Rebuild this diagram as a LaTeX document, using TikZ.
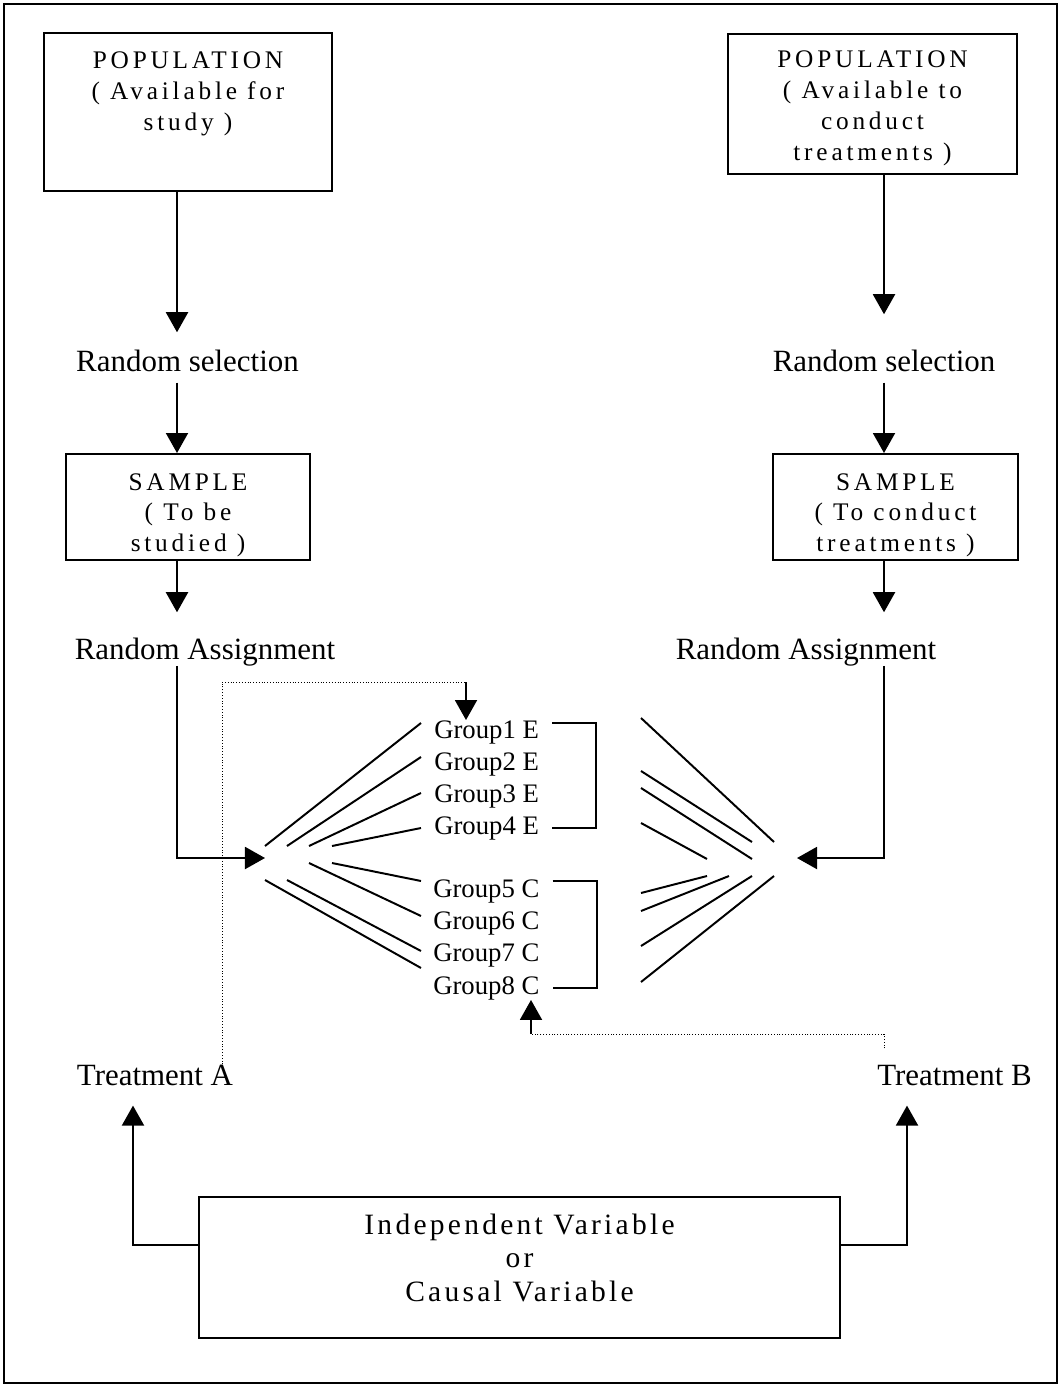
\documentclass[tikz,border=0pt]{standalone}
\usepackage{fontspec}
\setmainfont{Liberation Serif}
\newfontfamily\spacedfont[LetterSpace=15]{Liberation Serif}
\newfontfamily\varfont[LetterSpace=11]{Liberation Serif}
\usetikzlibrary{positioning, calc, arrows.meta}

\begin{document}
\begin{tikzpicture}
    [x=0.025cm, y=-0.025cm,
    boxnode/.style={rectangle, draw=black, line width=1.4pt, inner ysep=0pt, align=center, font=\spacedfont\fontsize{18}{22}\selectfont},
    varnode/.style={rectangle, draw=black, line width=1.4pt, align=center, font=\varfont\fontsize{21}{24}\selectfont},
    labelnode/.style={inner sep=0pt, anchor=base, font=\fontsize{22}{26}\selectfont},
    groupnode/.style={inner sep=0pt, anchor=base west, font=\fontsize{19}{22}\selectfont},
    arrowline/.style={line width=1.4pt, -{Triangle[width=0.55cm, length=0.5cm]}},
    plainline/.style={line width=1.4pt},
    dottedline/.style={line width=0.7pt, dash pattern=on 0.7pt off 1.3pt},]

    \useasboundingbox (0,0) rectangle (1061,1386);
    \draw[plainline] (4,4) rectangle (1057,1383);

     %Nodes
    \node[boxnode, minimum width=7.2cm, minimum height=3.95cm](P1) at (188,112){POPULATION\\( Available for\\study )\\[8pt]\mbox{}};
    \node[boxnode, minimum width=7.225cm, minimum height=3.5cm](P2) at (872.5,104){\mbox{}\\[-4pt]POPULATION\\( Available to\\conduct\\treatments )};

    \node[labelnode](selL) at (187.5,371){Random selection};
    \node[labelnode](selR) at (884,371){Random selection};

    \node[boxnode, minimum width=6.1cm, minimum height=2.65cm](S1) at (188,507){\mbox{}\\[1.7pt]SAMPLE\\( To be\\studied )};
    \node[boxnode, minimum width=6.125cm, minimum height=2.65cm](S2) at (895.5,507){\mbox{}\\[1.7pt]SAMPLE\\( To conduct\\treatments )};

    \node[labelnode](asgL) at (205,659){Random Assignment};
    \node[labelnode](asgR) at (806,659){Random Assignment};

    \node[groupnode](g1) at (434,738){Group1 E};
    \node[groupnode](g2) at (434,770){Group2 E};
    \node[groupnode](g3) at (434,802){Group3 E};
    \node[groupnode](g4) at (434,834){Group4 E};
    \node[groupnode](g5) at (433,897){Group5 C};
    \node[groupnode](g6) at (433,929){Group6 C};
    \node[groupnode](g7) at (433,961){Group7 C};
    \node[groupnode](g8) at (433,994){Group8 C};

    \node[labelnode](tA) at (155,1085){Treatment A};
    \node[labelnode](tB) at (954.5,1085){Treatment B};

    \node[varnode, minimum width=16.025cm, minimum height=3.525cm](IV) at (519.5,1267.5){Independent Variable\\or\\Causal Variable\\[-10pt]\mbox{}};

    \coordinate (colL) at (177,0);
    \coordinate (colR) at (884,0);
    \coordinate (hubL) at (265,858);
    \coordinate (hubR) at (797,858);
    \coordinate (aL) at (133,1245);
    \coordinate (aR) at (907,1245);
    \coordinate (dA) at (222,682);
    \coordinate (dA2) at (466,682);
    \coordinate (dB) at (884,1034);
    \coordinate (dB2) at (531,1034);

    %Lines
    \draw[arrowline, shorten >=0.425cm] (P1.south -| colL) -- (selL.north -| colL);
    \draw[arrowline, shorten <=0.275cm] (selL.south -| colL) -- (S1.north -| colL);
    \draw[arrowline, shorten >=0.625cm] (S1.south -| colL) -- (asgL.north -| colL);
    \draw[arrowline] (asgL.south -| colL) |- (hubL);

    \draw[arrowline, shorten >=0.875cm] (P2.south -| colR) -- (selR.north -| colR);
    \draw[arrowline, shorten <=0.275cm] (selR.south -| colR) -- (S2.north -| colR);
    \draw[arrowline, shorten >=0.625cm] (S2.south -| colR) -- (asgR.north -| colR);
    \draw[arrowline] (asgR.south -| colR) |- (hubR);

    %Fan to the groups
    \draw[plainline] (265,846) -- (421,723);
    \draw[plainline] (287,846) -- (421,757);
    \draw[plainline] (309,846) -- (421,793);
    \draw[plainline] (332,846) -- (421,828);
    \draw[plainline] (332,863) -- (421,881);
    \draw[plainline] (309,863) -- (421,916);
    \draw[plainline] (287,880) -- (421,951);
    \draw[plainline] (265,880) -- (421,968);

    \draw[plainline] (641,718) -- (774,842);
    \draw[plainline] (641,771) -- (752,842);
    \draw[plainline] (641,788) -- (752,859);
    \draw[plainline] (641,823) -- (707,859);
    \draw[plainline] (641,893) -- (707,876);
    \draw[plainline] (641,911) -- (729,876);
    \draw[plainline] (641,946) -- (752,876);
    \draw[plainline] (641,982) -- (774,876);

    %Brackets
    \draw[plainline] ($(g1.east)+(13,-9)$) -| ($(g4.east)+(57,0)$) -- ($(g4.east)+(13,0)$);
    \draw[plainline] ($(g5.east)+(13,-10)$) -| ($(g8.east)+(57,0)$) -- ($(g8.east)+(13,0)$);

    %Treatments
    \draw[dottedline] (tA.north -| dA) -- (dA) -- (dA2);
    \draw[arrowline] (dA2) -- (dA2 |- g1.north);
    \draw[dottedline, shorten <=0.4cm] (tB.north -| dB) -- (dB) -- (dB2);
    \draw[arrowline] (dB2) -- (dB2 |- g8.south);

    \draw[arrowline, shorten >=0.5cm] (IV.west |- aL) -| (aL |- tA.south);
    \draw[arrowline, shorten >=0.5cm] (IV.east |- aR) -| (aR |- tB.south);
\end{tikzpicture}
\end{document}
